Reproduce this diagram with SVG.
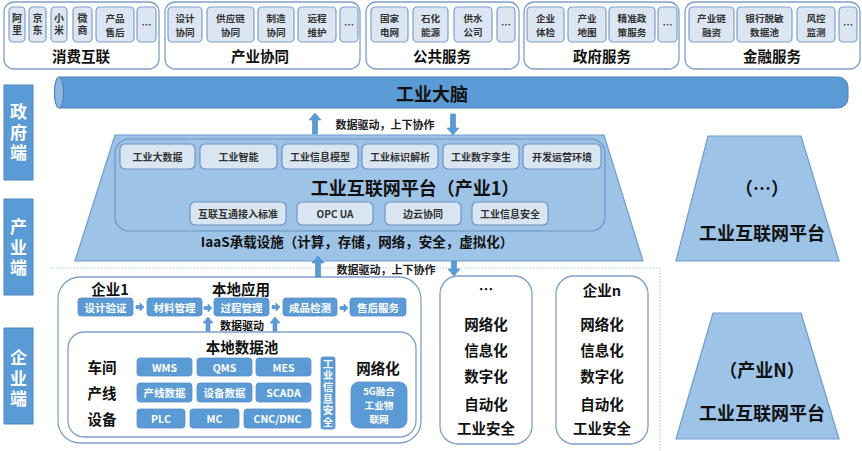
<svg xmlns="http://www.w3.org/2000/svg" width="862" height="451" viewBox="0 0 862 451">
<style>
text{font-family:"Noto Sans CJK SC","Microsoft YaHei","Liberation Sans",sans-serif;font-weight:bold;text-anchor:middle;dominant-baseline:central}
.v{writing-mode:vertical-rl;text-orientation:upright}
.grp{fill:#fff;stroke:#7F9FCB;stroke-width:1.3}
.it{fill:#DCE6F2;stroke:#7F9FCB;stroke-width:1.2}
.it2{fill:#DAE5F2;stroke:#6E93C6;stroke-width:1.2}
.bl{fill:#5B9BD5;stroke:#5A8ECB;stroke-width:0.8}
.side{fill:#5B9BD5;stroke:#4F86C0;stroke-width:1}
.trap{fill:#9DC3E6;stroke:#6E9BD2;stroke-width:1.2}
.arr{fill:#5B9BD5;stroke:#4A86C5;stroke-width:0.6}
.ti{font-size:10px;fill:#333}
.t2{font-size:9.6px;fill:#333}
.gl{font-size:14.5px;fill:#111}
.md{font-size:10px;fill:#333}
.wt{font-size:10.5px;fill:#fff}
.bk{font-size:14.5px;fill:#111}
.big{font-size:18px;fill:#111}
.sl{font-size:17px;fill:#fff;letter-spacing:3.5px}
.sm{font-size:11px;fill:#222}
</style>

<!-- side labels -->
<g id="side-gov"><rect class="side" x="4" y="85" width="29" height="95"/><text class="sl v" x="18.5" y="134">政府端</text></g>
<g id="side-ind"><rect class="side" x="4" y="199" width="29" height="96"/><text class="sl v" x="18.5" y="249">产业端</text></g>
<g id="side-ent"><rect class="side" x="4" y="328" width="29" height="96"/><text class="sl v" x="18.5" y="380">企业端</text></g>

<!-- top service groups -->
<g id="g-consumer">
<rect class="grp" x="4" y="2" width="155" height="67" rx="10"/>
<rect class="it" x="9" y="7" width="16" height="35" rx="4"/><text class="ti v" x="17" y="25.5" style="letter-spacing:2px">阿里</text>
<rect class="it" x="29" y="7" width="17" height="35" rx="4"/><text class="ti v" x="37.5" y="25.5" style="letter-spacing:2px">京东</text>
<rect class="it" x="51" y="7" width="16" height="35" rx="4"/><text class="ti v" x="59" y="25.5" style="letter-spacing:2px">小米</text>
<rect class="it" x="73" y="7" width="19" height="35" rx="4"/><text class="ti v" x="82.5" y="25.5" style="letter-spacing:2px">微商</text>
<rect class="it" x="96" y="7" width="38" height="35" rx="4"/><text class="t2" x="115" y="17.6"><tspan x="115">产品</tspan><tspan x="115" dy="13.9">售后</tspan></text>
<rect class="it" x="137" y="7" width="19" height="35" rx="4"/><text class="ti" x="146.5" y="24">…</text>
<text class="gl" x="81" y="55">消费互联</text>
</g>
<g id="g-industry">
<rect class="grp" x="165" y="2" width="195" height="67" rx="10"/>
<rect class="it" x="168" y="7" width="34" height="35" rx="4"/><text class="t2" x="185" y="17.6"><tspan x="185">设计</tspan><tspan x="185" dy="13.9">协同</tspan></text>
<rect class="it" x="207" y="7" width="47" height="35" rx="4"/><text class="t2" x="230.5" y="17.6"><tspan x="230.5">供应链</tspan><tspan x="230.5" dy="13.9">协同</tspan></text>
<rect class="it" x="258" y="7" width="36" height="35" rx="4"/><text class="t2" x="276" y="17.6"><tspan x="276">制造</tspan><tspan x="276" dy="13.9">协同</tspan></text>
<rect class="it" x="298" y="7" width="38" height="35" rx="4"/><text class="t2" x="317" y="17.6"><tspan x="317">远程</tspan><tspan x="317" dy="13.9">维护</tspan></text>
<rect class="it" x="340" y="7" width="18" height="35" rx="4"/><text class="ti" x="349" y="24">…</text>
<text class="gl" x="260" y="55">产业协同</text>
</g>
<g id="g-public">
<rect class="grp" x="366" y="2" width="153" height="67" rx="10"/>
<rect class="it" x="371" y="7" width="37" height="35" rx="4"/><text class="t2" x="389.5" y="17.6"><tspan x="389.5">国家</tspan><tspan x="389.5" dy="13.9">电网</tspan></text>
<rect class="it" x="413" y="7" width="35" height="35" rx="4"/><text class="t2" x="430.5" y="17.6"><tspan x="430.5">石化</tspan><tspan x="430.5" dy="13.9">能源</tspan></text>
<rect class="it" x="454" y="7" width="38" height="35" rx="4"/><text class="t2" x="473" y="17.6"><tspan x="473">供水</tspan><tspan x="473" dy="13.9">公司</tspan></text>
<rect class="it" x="497" y="7" width="18" height="35" rx="4"/><text class="ti" x="506" y="24">…</text>
<text class="gl" x="442" y="55">公共服务</text>
</g>
<g id="g-gov">
<rect class="grp" x="524" y="2" width="155" height="67" rx="10"/>
<rect class="it" x="527" y="7" width="37" height="35" rx="4"/><text class="t2" x="545.5" y="17.6"><tspan x="545.5">企业</tspan><tspan x="545.5" dy="13.9">体检</tspan></text>
<rect class="it" x="568" y="7" width="38" height="35" rx="4"/><text class="t2" x="587" y="17.6"><tspan x="587">产业</tspan><tspan x="587" dy="13.9">地图</tspan></text>
<rect class="it" x="609" y="7" width="46" height="35" rx="4"/><text class="t2" x="632" y="17.6"><tspan x="632">精准政</tspan><tspan x="632" dy="13.9">策服务</tspan></text>
<rect class="it" x="658" y="7" width="19" height="35" rx="4"/><text class="ti" x="667.5" y="24">…</text>
<text class="gl" x="602" y="55">政府服务</text>
</g>
<g id="g-finance">
<rect class="grp" x="685" y="2" width="175" height="67" rx="10"/>
<rect class="it" x="689" y="7" width="45" height="35" rx="4"/><text class="t2" x="711.5" y="17.6"><tspan x="711.5">产业链</tspan><tspan x="711.5" dy="13.9">融资</tspan></text>
<rect class="it" x="737" y="7" width="55" height="35" rx="4"/><text class="t2" x="764.5" y="17.6"><tspan x="764.5">银行脱敏</tspan><tspan x="764.5" dy="13.9">数据池</tspan></text>
<rect class="it" x="797" y="7" width="38" height="35" rx="4"/><text class="t2" x="816" y="17.6"><tspan x="816">风控</tspan><tspan x="816" dy="13.9">监测</tspan></text>
<rect class="it" x="839" y="7" width="18" height="35" rx="4"/><text class="ti" x="848" y="24">…</text>
<text class="gl" x="772" y="55">金融服务</text>
</g>

<!-- industrial brain cylinder -->
<g id="brain">
<path d="M59,77 H838 A10,10 0 0 1 848,87 V98 A10,10 0 0 1 838,108 H59 A4.5,15.5 0 0 1 59,77 Z" fill="#5B9BD5" stroke="#4A7FB8" stroke-width="1"/>
<ellipse cx="59" cy="92.5" rx="4.5" ry="15.5" fill="#8DB6E2" stroke="#4A7FB8" stroke-width="1"/>
<text class="big" x="432" y="93">工业大脑</text>
</g>

<!-- platform industry 1 -->
<g id="platform1">
<polygon class="trap" points="115,135 604,135 643,261 75,261"/>
<rect x="115" y="139" width="490" height="92" rx="14" fill="#9DC3E6" stroke="#6E93C6" stroke-width="1.2"/>
<rect class="it2" x="120" y="144" width="75" height="25" rx="5"/><text class="md" x="157.5" y="156.5">工业大数据</text>
<rect class="it2" x="200" y="144" width="77" height="25" rx="5"/><text class="md" x="238.5" y="156.5">工业智能</text>
<rect class="it2" x="282" y="144" width="76" height="25" rx="5"/><text class="md" x="320" y="156.5">工业信息模型</text>
<rect class="it2" x="362" y="144" width="76" height="25" rx="5"/><text class="md" x="400" y="156.5">工业标识解析</text>
<rect class="it2" x="443" y="144" width="76" height="25" rx="5"/><text class="md" x="481" y="156.5">工业数字孪生</text>
<rect class="it2" x="523" y="144" width="78" height="25" rx="5"/><text class="md" x="562" y="156.5">开发运营环境</text>
<text class="big" x="415" y="187">工业互联网平台（产业1）</text>
<rect class="it2" x="190" y="202" width="96" height="23" rx="5"/><text class="md" x="238" y="213.5">互联互通接入标准</text>
<rect class="it2" x="297" y="202" width="76" height="23" rx="5"/><text class="md" x="335" y="213.5">OPC UA</text>
<rect class="it2" x="385" y="202" width="76" height="23" rx="5"/><text class="md" x="423" y="213.5">边云协同</text>
<rect class="it2" x="472" y="202" width="76" height="23" rx="5"/><text class="md" x="510" y="213.5">工业信息安全</text>
<text x="357" y="241" style="font-size:13.5px;fill:#111">IaaS承载设施（计算，存储，网络，安全，虚拟化）</text>
</g>

<!-- other platforms -->
<g id="platform-etc">
<polygon class="trap" points="708,136 801,136 839,261 676,261"/>
<text class="big" x="762" y="187">（…）</text>
<text class="big" x="762" y="232">工业互联网平台</text>
</g>
<g id="platformN">
<polygon class="trap" points="713,313 801,313 839,439 676,439"/>
<text class="big" x="762" y="369">（产业N）</text>
<text class="big" x="762" y="412">工业互联网平台</text>
</g>

<!-- enterprise 1 -->
<g id="enterprise1">
<rect class="grp" x="58" y="277" width="363" height="166" rx="22"/>
<text class="bk" x="110" y="288">企业1</text>
<text class="bk" x="241" y="288">本地应用</text>
<rect class="bl" x="78" y="298" width="55" height="18" rx="3"/><text class="wt" x="105.5" y="307">设计验证</text>
<rect class="bl" x="147" y="298" width="55" height="18" rx="3"/><text class="wt" x="174.5" y="307">材料管理</text>
<rect class="bl" x="214" y="298" width="55" height="18" rx="3"/><text class="wt" x="241.5" y="307">过程管理</text>
<rect class="bl" x="283" y="298" width="54" height="18" rx="3"/><text class="wt" x="310" y="307">成品检测</text>
<rect class="bl" x="350" y="298" width="56" height="18" rx="3"/><text class="wt" x="378" y="307">售后服务</text>
<text x="242" y="325" style="font-size:11px;fill:#111">数据驱动</text>
<rect class="grp" x="68" y="332" width="348" height="105" rx="16"/>
<text class="bk" x="242" y="346">本地数据池</text>
<text class="bk" x="102" y="366">车间</text>
<text class="bk" x="102" y="392">产线</text>
<text class="bk" x="102" y="418">设备</text>
<rect class="bl" x="137" y="358" width="55" height="18" rx="3"/><text class="wt" x="164.5" y="367">WMS</text>
<rect class="bl" x="197" y="358" width="55" height="18" rx="3"/><text class="wt" x="224.5" y="367">QMS</text>
<rect class="bl" x="256" y="358" width="55" height="18" rx="3"/><text class="wt" x="283.5" y="367">MES</text>
<rect class="bl" x="137" y="383" width="55" height="19" rx="3"/><text class="wt" x="164.5" y="392.5">产线数据</text>
<rect class="bl" x="197" y="383" width="55" height="19" rx="3"/><text class="wt" x="224.5" y="392.5">设备数据</text>
<rect class="bl" x="256" y="383" width="55" height="19" rx="3"/><text class="wt" x="283.5" y="392.5">SCADA</text>
<rect class="bl" x="137" y="409" width="48" height="19" rx="3"/><text class="wt" x="161" y="418.5">PLC</text>
<rect class="bl" x="190" y="409" width="49" height="19" rx="3"/><text class="wt" x="214.5" y="418.5">MC</text>
<rect class="bl" x="244" y="409" width="67" height="19" rx="3"/><text class="wt" x="277.5" y="418.5">CNC/DNC</text>
<rect class="bl" x="321" y="357" width="14" height="72" rx="2"/>
<text class="wt v" x="328" y="393.5" style="font-size:10.5px;letter-spacing:1.2px">工业信息安全</text>
<text class="bk" x="378" y="367">网络化</text>
<rect class="bl" x="351" y="382" width="56" height="46" rx="8"/>
<text class="wt" x="379" y="391.1" style="font-size:9.6px"><tspan x="379">5G融合</tspan><tspan x="379" dy="13.9">工业物</tspan><tspan x="379" dy="13.9">联网</tspan></text>
</g>

<!-- enterprise ... -->
<g id="enterprise-etc">
<rect class="grp" x="440" y="276" width="92" height="168" rx="18"/>
<text class="bk" x="486" y="288">…</text>
<text class="bk" x="486" y="323">网络化</text>
<text class="bk" x="486" y="349">信息化</text>
<text class="bk" x="486" y="375">数字化</text>
<text class="bk" x="486" y="403">自动化</text>
<text class="bk" x="486" y="427">工业安全</text>
</g>
<g id="enterpriseN">
<rect class="grp" x="556" y="276" width="92" height="168" rx="18"/>
<text class="bk" x="602" y="289">企业n</text>
<text class="bk" x="602" y="323">网络化</text>
<text class="bk" x="602" y="349">信息化</text>
<text class="bk" x="602" y="375">数字化</text>
<text class="bk" x="602" y="403">自动化</text>
<text class="bk" x="602" y="427">工业安全</text>
</g>

<!-- connectors -->
<g id="connectors">
<path d="M50,268 H660 V451" fill="none" stroke="#A9C8EA" stroke-width="1" stroke-dasharray="1.5,1.5"/>
<polygon class="arr" points="315,113 321,120 317.5,120 317.5,134 312.5,134 312.5,120 309,120"/>
<polygon class="arr" points="453,135 459,128 455.5,128 455.5,114 450.5,114 450.5,128 447,128"/>
<text class="sm" x="385" y="124">数据驱动，上下协作</text>
<polygon class="arr" points="318,256 324,263 320.5,263 320.5,277 315.5,277 315.5,263 312,263"/>
<polygon class="arr" points="454,276 460,269 456.5,269 456.5,261 451.5,261 451.5,269 448,269"/>
<text class="sm" x="386" y="269">数据驱动，上下协作</text>
<polygon class="arr" points="136,305.5 140,305.5 140,303 144,307 140,311 140,308.5 136,308.5"/>
<polygon class="arr" points="204,306.5 208,306.5 208,304 212,308 208,312 208,309.5 204,309.5"/>
<polygon class="arr" points="272,305.5 276,305.5 276,303 280,307 276,311 276,308.5 272,308.5"/>
<polygon class="arr" points="340,306.5 344,306.5 344,304 348,308 344,312 344,309.5 340,309.5"/>
<polygon class="arr" points="208,317 213,323 210,323 210,331 206,331 206,323 203,323"/>
<polygon class="arr" points="275,317 280,323 277,323 277,331 273,331 273,323 270,323"/>
</g>
</svg>
